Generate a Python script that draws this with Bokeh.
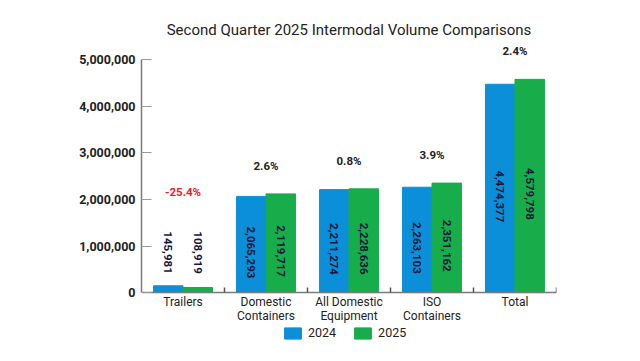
from bokeh.plotting import figure
from bokeh.models import (Range1d, FixedTicker, NumeralTickFormatter, Legend, LegendItem,
                          ColumnDataSource)
from bokeh.core.properties import value
from bokeh.embed import file_html
from bokeh.resources import INLINE

categories = ["Trailers", "Domestic\nContainers", "All Domestic\nEquipment", "ISO\nContainers", "Total"]
vol_2024 = [145981, 2065293, 2211274, 2263103, 4474377]
vol_2025 = [108919, 2119717, 2228636, 2351162, 4579798]
y_ticks = [0, 1000000, 2000000, 3000000, 4000000, 5000000]
title_text = "Second Quarter 2025 Intermodal Volume Comparisons"

BLUE = "#0b8fd8"
GREEN = "#17ad4a"
FONT = "Roboto"

n = len(categories)
centers = [i + 0.5 for i in range(n)]
bw = 0.355
x24 = [c - bw / 2 for c in centers]
x25 = [c + bw / 2 for c in centers]

pct = [(b / a - 1) * 100 for a, b in zip(vol_2024, vol_2025)]
pct_text = [f"{p:.1f}%" for p in pct]
pct_color = ["#e8202a" if p < 0 else "#222222" for p in pct]
pct_y = [max(max(a, b) + 600000, 2150000) for a, b in zip(vol_2024, vol_2025)]

lab24_y = [max(v / 2, 1030000) - 170000 for v in vol_2024]
lab25_y = [max(v / 2, 1030000) - 170000 for v in vol_2025]

p = figure(width=624, height=345, output_backend="svg", toolbar_location=None,
           x_range=Range1d(0, n), y_range=Range1d(-1137000, 5350000),
           min_border_left=141, min_border_right=68, min_border_top=43, min_border_bottom=0)
p.title.text = title_text
p.title.align = "center"
p.title.text_font = FONT
p.title.text_font_size = "15px"
p.title.text_font_style = "normal"
p.title.text_color = "#222222"
p.title.standoff = 9

p.outline_line_color = None
p.xgrid.visible = False
p.ygrid.visible = False

r24 = p.vbar(x=x24, top=vol_2024, width=bw, color=BLUE)
r25 = p.vbar(x=x25, top=vol_2025, width=bw, color=GREEN)

src24 = ColumnDataSource(dict(x=x24, y=lab24_y, t=[f"{v:,}" for v in vol_2024]))
src25 = ColumnDataSource(dict(x=x25, y=lab25_y, t=[f"{v:,}" for v in vol_2025]))
for s in (src24, src25):
    p.text(x="x", y="y", text="t", source=s, angle=-1.5707963, text_align="center",
           text_baseline="middle", text_font=value(FONT), text_font_size="11.5px",
           text_font_style="bold", text_color="#14163a")

srcp = ColumnDataSource(dict(x=centers, y=pct_y, t=pct_text, c=pct_color))
p.text(x="x", y="y", text="t", text_color="c", source=srcp, text_align="center",
       text_baseline="middle", text_font=value(FONT), text_font_size="11.5px",
       text_font_style="bold")

# y axis
ya = p.yaxis[0]
ya.ticker = FixedTicker(ticks=y_ticks)
ya.formatter = NumeralTickFormatter(format="0,0")
ya.bounds = (0, 5000000)
ya.major_tick_in = 10
ya.major_tick_out = 0
ya.minor_tick_line_color = None
ya.axis_line_color = "#7a7a7a"
ya.axis_line_width = 1.5
ya.major_tick_line_color = "#9a9a9a"
ya.major_label_text_font = FONT
ya.major_label_text_font_size = "12.5px"
ya.major_label_text_font_style = "bold"
ya.major_label_text_color = "#222222"
ya.major_label_standoff = 6

# x axis, fixed at y = 0
xa = p.xaxis[0]
xa.fixed_location = 0
xa.ticker = FixedTicker(ticks=centers, minor_ticks=[i + 1 for i in range(n)])
xa.major_label_overrides = {c: lab for c, lab in zip(centers, categories)}
xa.major_tick_in = 0
xa.major_tick_out = 0
xa.minor_tick_in = 5
xa.minor_tick_out = 0
xa.minor_tick_line_color = "#555555"
xa.minor_tick_line_width = 1.5
xa.axis_line_color = "#7a7a7a"
xa.axis_line_width = 1.5
xa.major_label_text_font = FONT
xa.major_label_text_font_size = "12px"
xa.major_label_text_font_style = "normal"
xa.major_label_text_color = "#222222"
xa.major_label_text_line_height = 1.0
xa.major_label_standoff = 2

legend = Legend(items=[LegendItem(label="2024", renderers=[r24]),
                       LegendItem(label="2025", renderers=[r25])],
                orientation="horizontal", location=(141, 5),
                glyph_width=21, glyph_height=14, spacing=16,
                label_text_font=FONT, label_text_font_size="12.5px",
                label_text_color="#222222", border_line_color=None,
                background_fill_alpha=0, padding=0, margin=0, label_standoff=5,
                label_height=14)
p.add_layout(legend, "center")

open("out.html", "w").write(file_html(p, INLINE))
